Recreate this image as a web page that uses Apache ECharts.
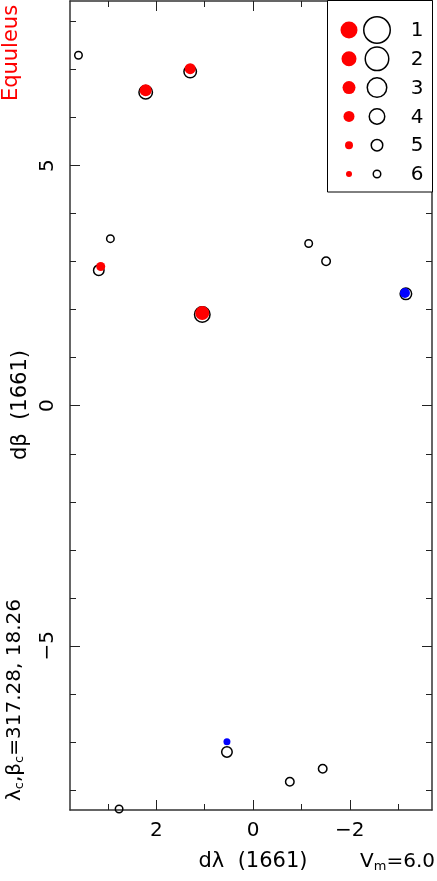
<!DOCTYPE html>
<html>
<head>
<meta charset="utf-8">
<script src="https://cdn.jsdelivr.net/npm/echarts@6/dist/echarts.min.js"></script>
<style>
  html, body { margin: 0; padding: 0; background: #fff; }
  #chart { width: 437px; height: 881px; }
</style>
</head>
<body>
<div id="chart"></div>
<script>
// 空心圆（黑）
var openX = [3.61, 2.22, 1.30, 2.95, 3.19, 1.05, -1.15, -1.51, -3.16, 0.54, -0.76, -1.44, 2.77];
var openY = [7.30, 6.53, 6.96, 3.48, 2.82, 1.90, 3.38, 3.01, 2.33, -7.21, -7.83, -7.56, -8.40];
var openSize = [9, 15, 14, 9, 12, 17, 9, 10, 13, 12, 10, 10, 9];

// 红色实心
var redX = [2.22, 1.30, 3.15, 1.05];
var redY = [6.57, 7.02, 2.90, 1.93];
var redSize = [12, 11, 9, 14];

// 蓝色实心
var blueX = [-3.14, 0.54];
var blueY = [2.35, -7.00];
var blueSize = [10, 7];

// 坐标轴刻度
var xMajor = [-2, 0, 2];
var xMinor = [-3, -1, 1, 3];
var yMajor = [-5, 0, 5];
var yMinor = [-8, -7, -6, -4, -3, -2, -1, 1, 2, 3, 4, 6, 7, 8];

// 图例
var legendLabels = ['1', '2', '3', '4', '5', '6'];
var legendRed = [17, 15, 13, 11, 8, 6];
var legendRing = [28, 25, 21, 17, 13, 9];

var FONT = '"DejaVu Sans", sans-serif';

function pts(xs, ys, ss) {
    var d = [];
    for (var i = 0; i < xs.length; i++) {
        d.push([xs[i], ys[i], ss[i]]);
    }
    return d;
}

function minusFmt(v) {
    return v < 0 ? '\u2212' + (-v) : String(v);
}

var myChart = echarts.init(document.getElementById('chart'));

function xAx(pos, ticks, len, showLine, showLabel) {
    return {
        type: 'value', position: pos, inverse: true,
        min: -3.70, max: 3.785,
        splitLine: { show: false },
        axisLine: { show: showLine, onZero: false, lineStyle: { color: '#333', width: 1.5 } },
        axisTick: { show: true, inside: true, length: len, customValues: ticks,
                    lineStyle: { color: '#222', width: 1 } },
        axisLabel: { show: showLabel, customValues: ticks, formatter: minusFmt, margin: 11,
                     fontFamily: FONT, fontSize: 20, color: '#000' }
    };
}
function yAx(pos, ticks, len, showLine, showLabel) {
    return {
        type: 'value', position: pos,
        min: -8.42, max: 8.43,
        splitLine: { show: false },
        axisLine: { show: showLine, onZero: false, lineStyle: { color: '#333', width: 1.5 } },
        axisTick: { show: true, inside: true, length: len, customValues: ticks,
                    lineStyle: { color: '#222', width: 1 } },
        axisLabel: { show: showLabel, customValues: ticks, formatter: minusFmt, margin: 12,
                     rotate: 90, fontFamily: FONT, fontSize: 20, color: '#000' }
    };
}

var graphics = [];
// 图例框
graphics.push({
    type: 'rect', shape: { x: 327.5, y: 0.5, width: 105, height: 191.5 },
    style: { fill: '#fff', stroke: '#000', lineWidth: 1 }, z: 10
});
for (var i = 0; i < legendLabels.length; i++) {
    var yy = 30 + i * 28.8;
    graphics.push({ type: 'circle', shape: { cx: 349, cy: yy, r: legendRed[i] / 2 },
        style: { fill: '#ff0000' }, z: 11 });
    graphics.push({ type: 'circle', shape: { cx: 377, cy: yy, r: legendRing[i] / 2 - 0.75 },
        style: { fill: 'none', stroke: '#000', lineWidth: 1.5 }, z: 11 });
    graphics.push({ type: 'text', x: 417, y: yy + 1, z: 11,
        style: { text: legendLabels[i], font: '20px ' + FONT, fill: '#000',
                 align: 'center', verticalAlign: 'middle' } });
}
// 文字
graphics.push({ type: 'text', x: 12, y: 53, rotation: Math.PI / 2,
    style: { text: 'Equuleus', font: '21px ' + FONT, fill: '#ff0000', align: 'center', verticalAlign: 'middle' } });
graphics.push({ type: 'text', x: 21, y: 405, rotation: Math.PI / 2,
    style: { text: 'd\u03b2  (1661)', font: '21px ' + FONT, fill: '#000', align: 'center', verticalAlign: 'middle' } });
graphics.push({ type: 'text', x: 15, y: 700, rotation: Math.PI / 2,
    style: { text: '{n|\u03bb}{s|c}{n|,\u03b2}{s|c}{n|=317.28, 18.26}', align: 'center', verticalAlign: 'middle',
             rich: { n: { fontFamily: FONT, fontSize: 20, fill: '#000' },
                     s: { fontFamily: FONT, fontSize: 13, fill: '#000', padding: [10, 0, 0, 0] } } } });
graphics.push({ type: 'text', x: 253, y: 862,
    style: { text: 'd\u03bb  (1661)', font: '21px ' + FONT, fill: '#000', align: 'center', verticalAlign: 'middle' } });
graphics.push({ type: 'text', x: 435, y: 862,
    style: { text: '{n|V}{s|m}{n|=6.0}', align: 'right', verticalAlign: 'middle',
             rich: { n: { fontFamily: FONT, fontSize: 20, fill: '#000' },
                     s: { fontFamily: FONT, fontSize: 13, fill: '#000', padding: [10, 0, 0, 0] } } } });

var option = {
    animation: false,
    backgroundColor: '#fff',
    grid: { left: 70, right: 5, top: 1, bottom: 71 },
    xAxis: [
        xAx('bottom', xMajor, 10, true, true),
        xAx('bottom', xMinor, 6, false, false),
        xAx('top', xMajor, 10, true, false),
        xAx('top', xMinor, 6, false, false)
    ],
    yAxis: [
        yAx('left', yMajor, 10, true, true),
        yAx('left', yMinor, 6, false, false),
        yAx('right', yMajor, 10, true, false),
        yAx('right', yMinor, 6, false, false)
    ],
    series: [
        {
            name: 'open', type: 'scatter', xAxisIndex: 0, yAxisIndex: 0,
            data: pts(openX, openY, openSize),
            symbol: 'circle',
            symbolSize: function (v) { return v[2] - 1.5; },
            itemStyle: { color: 'rgba(0,0,0,0)', borderColor: '#000', borderWidth: 1.5, opacity: 1 },
            z: 3
        },
        {
            name: 'red', type: 'scatter', xAxisIndex: 0, yAxisIndex: 0,
            data: pts(redX, redY, redSize),
            symbol: 'circle',
            symbolSize: function (v) { return v[2]; },
            itemStyle: { color: '#ff0000', opacity: 1 },
            z: 4
        },
        {
            name: 'blue', type: 'scatter', xAxisIndex: 0, yAxisIndex: 0,
            data: pts(blueX, blueY, blueSize),
            symbol: 'circle',
            symbolSize: function (v) { return v[2]; },
            itemStyle: { color: '#0000ff', opacity: 1 },
            z: 4
        }
    ],
    graphic: graphics
};

myChart.setOption(option);
</script>
</body>
</html>
